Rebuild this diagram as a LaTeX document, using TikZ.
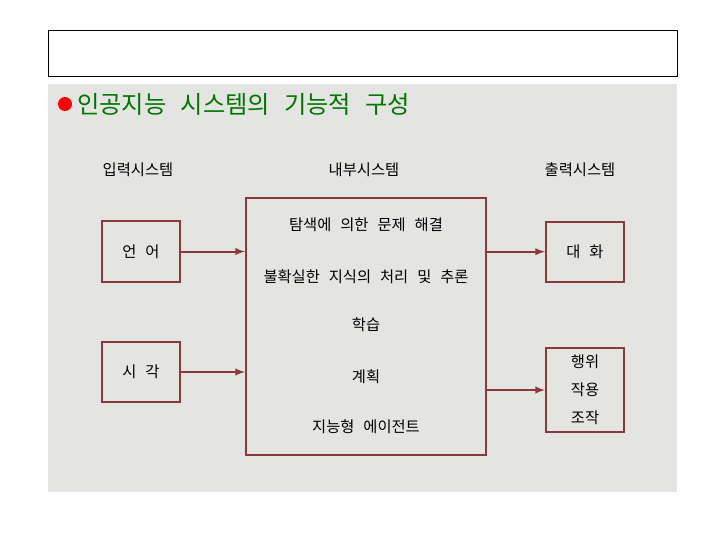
\documentclass[tikz,border=0pt]{standalone}
\usepackage{fontspec}
\newfontfamily\kr{Noto Sans CJK KR}[WordSpace=2.6]
\usetikzlibrary{positioning,calc,arrows}

\definecolor{boxred}{RGB}{139,58,58}
\definecolor{paper}{RGB}{228,228,226}
\definecolor{titlegreen}{RGB}{0,118,0}

\begin{document}
\begin{tikzpicture}
    [
    x=0.75pt, y=-0.75pt,
    sysbox/.style={
      draw=boxred, line width=1.5pt,
      font=\kr\fontsize{11.5}{21}\selectfont,
      align=center, inner sep=0pt,
      minimum width=58.5pt
    },
    txt/.style={
      font=\kr\fontsize{11.5}{14}\selectfont,
      inner sep=0pt
    },
    flow/.style={
      draw=boxred, line width=1.5pt, -latex
    }
    ]
    \useasboundingbox (0,0) rectangle (720,540);

    % Draw the empty title frame and the paper
    \draw[line width=0.75pt, fill=white] (48,30) rectangle (677,76);
    \fill[paper] (48,84) rectangle (677,492);

    % Draw the heading
    \fill[red] (65,104) circle (5.25pt);
    \node[anchor=west, inner sep=0pt, text=titlegreen,
          font=\kr\fontsize{18.2}{22}\selectfont] (heading) at (77,104)
          {인공지능 시스템의 기능적 구성};

    % Column headers
    \node[txt] (inhead)  at (138,170) {입력시스템};
    \node[txt] (midhead) at (364,170) {내부시스템};
    \node[txt] (outhead) at (580,170) {출력시스템};

    % Input boxes
    \node[sysbox, minimum height=45.75pt] (lang)  at (141,251.5) {언 어};
    \node[sysbox, minimum height=45pt]    (sight) at (141,372)   {시 각};

    % Internal system
    \node[draw=boxred, line width=1.5pt, minimum width=180pt,
          minimum height=192.75pt] (core) at (366,326.5) {};
    \foreach \y/\name/\t in {
          225/search/탐색에 의한 문제 해결,
          277/reason/불확실한 지식의 처리 및 추론,
          325/learn/학습,
          377/plan/계획,
          427/agent/지능형 에이전트
    } {
      \node[txt] (\name) at (366,\y) {\t};
    }

    % Output boxes
    \node[sysbox, minimum height=45pt] (talk) at (585,251.7) {대 화};
    \node[sysbox, minimum height=63pt] (act)  at (585,390)   {행위\\작용\\조작};

    % Draw the arrows
    \draw[flow] (lang.east)  -- (lang.east -| core.west);
    \draw[flow] (sight.east) -- (sight.east -| core.west);
    \draw[flow] (talk.west -| core.east) -- (talk.west);
    \draw[flow] (act.west -| core.east)  -- (act.west);
\end{tikzpicture}
\end{document}
